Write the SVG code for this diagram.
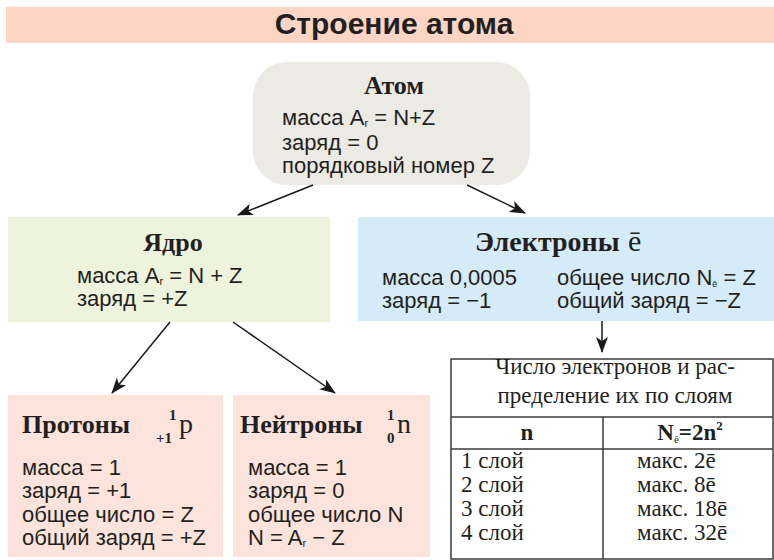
<svg xmlns="http://www.w3.org/2000/svg" width="774" height="560" viewBox="0 0 774 560">
<defs>
<marker id="arr" markerWidth="16" markerHeight="12" refX="15" refY="6" orient="auto" markerUnits="userSpaceOnUse">
<path d="M0,0 L16,6 L0,12 L4,6 z" fill="#1a1a1a"/>
</marker>
<style>
.sans{font-family:"Liberation Sans",Arial,sans-serif;fill:#231f20;}
.serif{font-family:"Liberation Serif","Times New Roman",serif;fill:#231f20;}
.body{font-size:22px;}
.head{font-size:26px;font-weight:bold;}
.tb{font-size:23px;}
.sub{font-size:11px;}
.idx{font-size:15px;font-weight:bold;}
.conn{stroke:#1a1a1a;stroke-width:1.5;fill:none;marker-end:url(#arr);}
.grid{stroke:#3a3a3a;stroke-width:1.5;fill:none;}
</style>
</defs>
<rect width="774" height="560" fill="#ffffff"/>

<g id="title">
<rect x="6" y="7" width="768" height="36" fill="#fcd5c4"/>
<text x="394" y="34" text-anchor="middle" class="sans" font-size="30" font-weight="bold">Строение атома</text>
</g>

<g id="atom">
<rect x="253" y="62" width="277" height="123" rx="34" ry="34" fill="#ebeae3"/>
<text x="394" y="94" text-anchor="middle" class="serif head">Атом</text>
<text x="282" y="125" class="sans body">масса A<tspan class="sub" dy="2">r</tspan><tspan dy="-2"> = N+Z</tspan></text>
<text x="282" y="150" class="sans body">заряд = 0</text>
<text x="282" y="173" class="sans body">порядковый номер Z</text>
</g>

<g id="nucleus">
<rect x="8" y="217" width="322" height="105" fill="#eef3dd"/>
<text x="173" y="251" text-anchor="middle" class="serif head">Ядро</text>
<text x="77" y="283" class="sans body">масса A<tspan class="sub" dy="2">r</tspan><tspan dy="-2"> = N + Z</tspan></text>
<text x="77" y="306" class="sans body">заряд = +Z</text>
</g>

<g id="electrons">
<rect x="358" y="217" width="416" height="104" fill="#d5ebf8"/>
<text x="475" y="251" class="serif" font-size="28" font-weight="bold">Электроны</text>
<text x="628" y="251" class="serif" font-size="30">ē</text>
<text x="382" y="285" class="sans body">масса 0,0005</text>
<text x="382" y="308" class="sans body">заряд = −1</text>
<text x="557" y="285" class="sans body">общее число N<tspan font-size="9" dy="2">ē</tspan><tspan dy="-2"> = Z</tspan></text>
<text x="557" y="308" class="sans body">общий заряд = −Z</text>
</g>

<g id="protons">
<rect x="8" y="395" width="215" height="162" fill="#fce4dc"/>
<text x="22" y="433" class="serif head">Протоны</text>
<text x="169" y="420" class="serif idx">1</text>
<text x="156" y="443" class="serif idx">+1</text>
<text x="179" y="433" class="serif" font-size="28">p</text>
<text x="22" y="475" class="sans body">масса = 1</text>
<text x="22" y="498" class="sans body">заряд = +1</text>
<text x="22" y="522" class="sans body">общее число = Z</text>
<text x="22" y="545" class="sans body">общий заряд = +Z</text>
</g>

<g id="neutrons">
<rect x="233" y="395" width="197" height="162" fill="#fce4dc"/>
<text x="240" y="433" class="serif head">Нейтроны</text>
<text x="387" y="420" class="serif idx">1</text>
<text x="387" y="443" class="serif idx">0</text>
<text x="397" y="433" class="serif" font-size="28">n</text>
<text x="248" y="475" class="sans body">масса = 1</text>
<text x="248" y="498" class="sans body">заряд = 0</text>
<text x="248" y="522" class="sans body">общее число N</text>
<text x="248" y="545" class="sans body">N = A<tspan class="sub" dy="2">r</tspan><tspan dy="-2"> − Z</tspan></text>
</g>

<g id="table">
<rect x="451" y="359" width="322" height="200" fill="#f6f8ee" class="grid"/>
<line x1="451" y1="417" x2="773" y2="417" class="grid"/>
<line x1="451" y1="449" x2="773" y2="449" class="grid"/>
<line x1="603" y1="417" x2="603" y2="559" class="grid"/>
<text x="615" y="374" text-anchor="middle" class="serif tb">Число электронов и рас-</text>
<text x="615" y="403" text-anchor="middle" class="serif tb">пределение их по слоям</text>
<text x="527" y="440" text-anchor="middle" class="serif tb" font-weight="bold">n</text>
<text x="690" y="440" text-anchor="middle" class="serif tb" font-weight="bold">N<tspan font-size="11" font-weight="normal" dy="3">ē</tspan><tspan dy="-3">=2n</tspan><tspan font-size="13" dy="-10">2</tspan></text>
<text x="461" y="468" class="serif tb">1 слой</text>
<text x="461" y="492" class="serif tb">2 слой</text>
<text x="461" y="516" class="serif tb">3 слой</text>
<text x="461" y="540" class="serif tb">4 слой</text>
<text x="637" y="468" class="serif tb">макс. 2ē</text>
<text x="637" y="492" class="serif tb">макс. 8ē</text>
<text x="637" y="516" class="serif tb">макс. 18ē</text>
<text x="637" y="540" class="serif tb">макс. 32ē</text>
</g>

<g id="connectors">
<line x1="313" y1="185" x2="238" y2="215" class="conn"/>
<line x1="467" y1="185" x2="525" y2="213" class="conn"/>
<line x1="602" y1="321" x2="602" y2="352" class="conn"/>
<line x1="170" y1="322" x2="112" y2="393" class="conn"/>
<line x1="233" y1="322" x2="335" y2="393" class="conn"/>
</g>
</svg>
